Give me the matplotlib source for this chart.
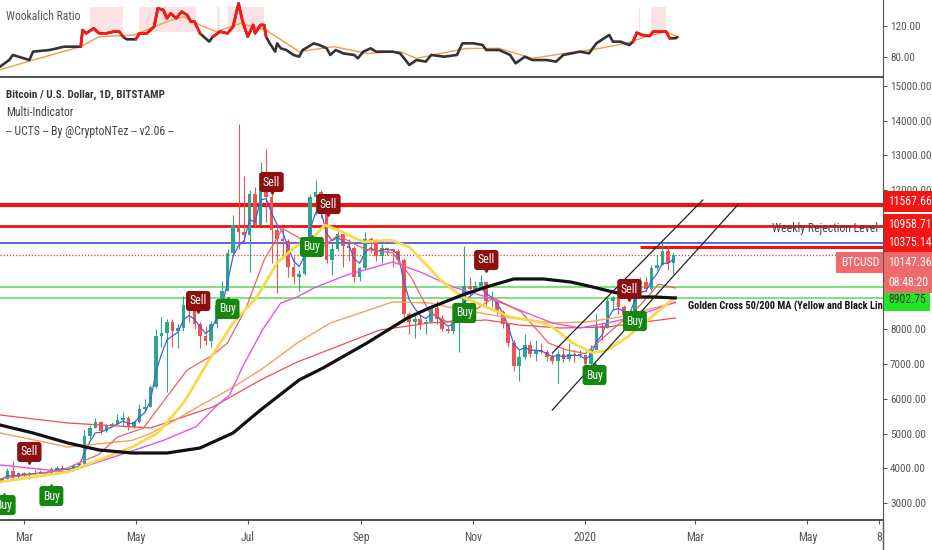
import numpy as np
import matplotlib.pyplot as plt
import matplotlib.transforms as mtransforms
from matplotlib.lines import Line2D

plt.rcParams['font.family'] = ['Roboto Condensed', 'Roboto', 'DejaVu Sans']

# ---------------- data (days counted from 2019-01-01) ----------------
# 3-day candles, Feb 2019 -> Feb 2020 (BTCUSD, Bitstamp)
candle_day = list(range(47, 414, 3))
first_open = 3620
close = [3680, 3920, 3750, 3850, 3820, 3850, 3870, 3880, 3870, 3990,
         4020, 3990, 3940, 4080, 4120, 4920, 5160, 5320, 5060, 5220,
         5280, 5380, 5450, 5200, 5320, 5700, 5760, 6350, 7800, 7900,
         8200, 7950, 8050, 8700, 8550, 8150, 7800, 7650, 8150, 8700,
         9100, 10200, 11000, 10800, 10700, 11900, 11000, 12500, 11800, 10850,
         10600, 10550, 9800, 9500, 9600, 10500, 11800, 11950, 11400, 10000,
         10300, 10750, 10400, 10350, 9500, 9750, 10600, 10500, 10100, 10350,
         10300, 10250, 10000, 8450, 8200, 8300, 8150, 8200, 8600, 8300,
         8000, 7950, 8200, 8650, 9250, 9150, 9250, 9350, 8800, 8800,
         8500, 8150, 7600, 6950, 7200, 7550, 7300, 7400, 7350, 7200,
         7100, 7300, 7150, 7300, 7250, 7250, 7000, 7400, 8100, 8050,
         8800, 8900, 8650, 8400, 8350, 9300, 9350, 9150, 9750, 9850,
         10250, 9900, 10150]
high = [3720, 4000, 4200, 3880, 3900, 3880, 3950, 3950, 3900, 4040,
        4060, 4080, 4000, 4120, 4150, 5100, 5250, 5450, 5350, 5260,
        5340, 5550, 5620, 5500, 5360, 5850, 5980, 6400, 8000, 8350,
        8300, 8300, 8150, 8950, 9000, 8700, 8200, 8100, 8250, 8850,
        9400, 10300, 11300, 13900, 12400, 12000, 12100, 12800, 13200, 11900,
        11000, 10900, 10600, 10100, 9700, 10650, 11900, 12300, 12000, 11500,
        10500, 10950, 10800, 10600, 10400, 9800, 10800, 10650, 10600, 10450,
        10380, 10300, 10300, 10050, 8500, 8400, 8400, 8300, 8700, 8800,
        8400, 8100, 8300, 8750, 10400, 9500, 9400, 9550, 9350, 9100,
        8850, 8550, 8150, 7700, 7400, 7850, 7650, 7700, 7600, 7400,
        7300, 7400, 7500, 7600, 7400, 7400, 7300, 7550, 8450, 8200,
        8900, 8950, 9150, 8700, 8500, 9400, 9500, 9500, 9850, 10150,
        10500, 10400, 10200]
low = [3600, 3650, 3700, 3700, 3780, 3700, 3830, 3850, 3830, 3860,
       3960, 3950, 3900, 3930, 4050, 4120, 4850, 5150, 4990, 5030,
       5180, 5250, 5200, 5100, 5150, 5300, 5650, 5750, 6300, 7500,
       6200, 7500, 7450, 7950, 8200, 8000, 7450, 7550, 7500, 8050,
       8700, 9100, 10100, 10300, 10500, 9650, 10950, 11000, 11100, 9900,
       9050, 10100, 9500, 9300, 9100, 9550, 10500, 11300, 11200, 9900,
       9550, 10250, 9800, 9950, 9350, 9400, 9700, 10200, 9950, 9900,
       10150, 9800, 9900, 8200, 7850, 7750, 8000, 7850, 8200, 8150,
       7950, 7900, 7850, 7350, 8600, 8950, 9050, 9150, 8700, 8650,
       8400, 8050, 7500, 6800, 6500, 7150, 7200, 7100, 7300, 7100,
       7000, 6450, 7050, 7100, 7050, 7200, 6900, 6850, 7400, 7700,
       8050, 8550, 8450, 8300, 8250, 8300, 9200, 9100, 9100, 9700,
       9850, 9700, 9600]

# moving averages
ma200_day = [46, 64, 83, 100, 118, 137, 155, 173, 188, 209, 222, 246, 268, 280,
             298, 311, 326, 342, 357, 369, 380, 393, 402, 414]
ma200_val = [5245, 5015, 4727, 4525, 4439, 4439, 4583, 5015, 5677, 6540, 6885, 7605,
             8324, 8612, 8986, 9216, 9447, 9447, 9360, 9216, 9073, 8929, 8929, 8900]
ma50_day = [46, 64, 83, 100, 118, 132, 146, 159, 173, 186, 197, 206, 217, 223, 230,
            244, 259, 269, 280, 286, 298, 311, 324, 340, 347, 358, 369, 377, 388,
            399, 409, 414]
ma50_val = [3604, 3748, 3892, 4238, 4612, 5015, 5878, 7029, 8180, 8929, 9907, 10339,
            10655, 11000, 10857, 10512, 10569, 10368, 9763, 9418, 8929, 8641, 8353,
            8209, 8065, 7605, 7317, 7404, 7778, 8267, 8698, 8929]
ma100_day = [46, 83, 118, 135, 153, 164, 171, 178, 189, 199, 208, 217, 235, 260, 275,
             293, 311, 329, 347, 362, 377, 391, 402, 414]
ma100_val = [4094, 3892, 4500, 4800, 5200, 5800, 6100, 6900, 7979, 8756, 8929, 9188,
             9562, 9936, 9648, 9216, 8929, 8554, 8180, 8036, 8180, 8353, 8554, 8785]
ma150_day = [46, 83, 118, 128, 137, 155, 172, 188, 208, 226, 260, 280, 293, 320, 347,
             366, 384, 402, 414]
ma150_val = [5015, 4612, 4800, 5000, 5250, 5800, 6300, 6828, 7605, 8180, 8785, 8756,
             8612, 8353, 8180, 8209, 8353, 8612, 8756]
ema200_day = [46, 83, 128, 162, 188, 208, 253, 280, 311, 329, 351, 377, 393, 414]
ema200_val = [5533, 5302, 5159, 5763, 6540, 7058, 7979, 8180, 8267, 8123, 8036, 8065,
              8180, 8324]
ma30_day = [46, 80, 100, 110, 124, 148, 162, 170, 180, 190, 200, 210, 220, 230, 245,
            260, 270, 280, 290, 300, 315, 330, 345, 355, 365, 380, 395, 405, 414]
ma30_val = [3700, 3950, 4400, 4900, 5150, 6828, 7260, 7605, 8600, 10000, 10900, 10600,
            10300, 10700, 10300, 10200, 9500, 8500, 8200, 8400, 8900, 8500, 7600, 7400,
            7300, 8000, 8700, 9300, 9188]

# price levels
lvl_main = 11567.66
lvl_weekly = 10958.71
lvl_blue = 10480
lvl_recent = 10375.14
last_price = 10147.36
lvl_green = [9220, 8902.75]

# rising channel
chan_a_day, chan_a_val = [347, 429], [7317, 11720]
chan_b_day, chan_b_val = [347, 448], [5677, 11576]

# UCTS signals
sig_kind = ['Sell', 'Sell', 'Buy', 'Sell', 'Buy', 'Sell', 'Buy', 'Sell', 'Buy', 'Buy',
            'Sell', 'Buy', 'Buy']
sig_day = [194, 225, 216, 154, 170, 311, 299, 389, 392, 370, 62, 74, 48]
sig_price = [12237, 11604, 10367, 8813, 8583, 9993, 8468, 9158, 8237, 6683, 4468,
             3201, 2942]

# Wookalich ratio panel
ratio_day = [46, 51, 53, 62, 64, 73, 81, 90, 91, 93, 97, 100, 104, 108, 111, 113, 115,
             120, 122, 126, 130, 132, 135, 137, 139, 142, 145, 148, 150, 152, 155, 160,
             162, 166, 170, 173, 176, 178, 181, 184, 185, 188, 190, 191, 193, 196, 197,
             199, 202, 206, 209, 211, 217, 220, 224, 226, 229, 233, 239, 241, 244, 248,
             251, 260, 264, 267, 269, 273, 278, 281, 288, 295, 298, 300, 304, 309, 311,
             318, 324, 327, 332, 336, 344, 349, 353, 362, 367, 371, 378, 380, 384, 389,
             391, 393, 396, 400, 402, 405, 409, 411, 414, 415]
ratio_val = [67.5, 76.1, 82.6, 76.1, 86.9, 89, 93.3, 93.3, 114.8, 110.5, 117, 110.5,
             110.5, 112.7, 112.7, 106.2, 102.8, 102.8, 110.5, 110.5, 119.1, 142.8, 140.6,
             129.9, 136.3, 129.9, 138.5, 134.2, 125.6, 125.6, 110.5, 99.8, 106.2, 112.7,
             110.5, 119.1, 149.2, 127.7, 106.2, 121.3, 110.5, 121.3, 121.3, 106.2, 97.6,
             86.9, 97.6, 91.2, 89, 82.6, 80.4, 89, 97.6, 95.5, 91.2, 82.6, 89, 84.7, 82.6,
             78.3, 86.9, 91.2, 86.9, 86.9, 84.7, 76.1, 69.7, 76.1, 74, 82.6, 80.4, 82.6,
             97.6, 97.6, 97.6, 95.5, 89, 89, 82.6, 71.8, 80.4, 76.1, 76.1, 74, 82.6, 86.9,
             84.7, 97.6, 108.4, 99.8, 99.8, 95.5, 99.8, 111.4, 108.4, 107.1, 112.7, 112.7,
             112.7, 104.1, 104.1, 105.4]
ratio_ma_day = [46, 64, 90, 100, 119, 137, 146, 155, 164, 177, 191, 209, 228, 246, 264,
                273, 300, 318, 336, 354, 373, 387, 398, 409, 415]
ratio_ma_val = [63.4, 76.1, 93.3, 106.2, 108.4, 125.6, 132, 121.3, 112.7, 123.4, 114.8,
                86.9, 93.3, 84.7, 86.9, 78.3, 91, 91.2, 78.3, 84.7, 91.2, 97.6, 106.2,
                112.7, 106.2]
ratio_bands = [(95, 113), (122, 153), (164, 166), (170, 190), (394, 395), (401, 409)]
ratio_red = [(90, 113), (120, 156), (162, 192), (391, 411)]

tick_day = [59, 120, 181, 243, 304, 365, 425, 486, 525]
tick_lab = ['Mar', 'May', 'Jul', 'Sep', 'Nov', '2020', 'Mar', 'May', '8']
price_ticks = [3000, 4000, 5000, 6000, 7000, 8000, 12000, 13000, 14000, 15000]

# ---------------- figure ----------------
W, H = 932, 550
fig = plt.figure(figsize=(W / 100, H / 100), dpi=100)
RX = 883
ax_top = fig.add_axes([0, 1 - 77 / H, RX / W, 77 / H])
ax = fig.add_axes([0, 30 / H, RX / W, (520 - 78) / H])
XMIN, XMAX = 46, 527.2
GREY = '#555555'

for a in (ax_top, ax):
    a.set_xlim(XMIN, XMAX)
    a.spines['left'].set_visible(False)
    a.spines['top'].set_visible(False)
    a.spines['right'].set_color(GREY)
    a.spines['bottom'].set_color('#444444')
    a.spines['bottom'].set_linewidth(1.3)
    a.yaxis.tick_right()
    a.tick_params(axis='y', labelsize=8, colors=GREY, length=3, pad=2)
fig.add_artist(Line2D([RX / W, RX / W], [0, 30 / H], color=GREY, lw=1))

# ---- ratio panel ----
ax_top.set_ylim(54.2, 153.5)
for d0, d1 in ratio_bands:
    ax_top.fill_between([d0, d1], 112, 144, color='#fde2e4', lw=0, zorder=0)
ax_top.plot(ratio_ma_day, ratio_ma_val, color='#f39c4a', lw=1, zorder=2)
ax_top.plot(ratio_day, ratio_val, color='#333333', lw=1.9, zorder=3)
rd, rv = np.array(ratio_day), np.array(ratio_val)
for d0, d1 in ratio_red:
    m = (rd >= d0) & (rd <= d1)
    ax_top.plot(rd[m], rv[m], color='#ff1414', lw=1.9, zorder=4)
ax_top.set_yticks([80, 120])
ax_top.set_yticklabels(['80.00', '120.00'])
ax_top.set_xticks([])
ax_top.text(6 / RX, 0.78, 'Wookalich Ratio', transform=ax_top.transAxes,
            fontsize=8.5, color=GREY, va='center')

# ---- main panel ----
ax.set_ylim(2511, 15230)
ax.axhline(lvl_main, color='#f21010', lw=3, zorder=1)
ax.axhline(lvl_weekly, color='#f21010', lw=2, zorder=1)
ax.axhline(lvl_blue, color='#2f3fd8', lw=1.1, zorder=1)
ax.hlines(lvl_recent, 395, XMAX, color='#f21010', lw=2.2, zorder=1)
ax.axhline(last_price, color='#e04040', lw=0.9, ls=(0, (1, 1.5)), zorder=1)
for g in lvl_green:
    ax.axhline(g, color='#66dd66', lw=1.2, zorder=1)

o = np.array([first_open] + close[:-1])
c = np.array(close)
col = np.where(c >= o, '#2ea58f', '#ef5350')
ax.vlines(candle_day, low, high, colors=col, lw=0.8, zorder=2)
ax.bar(candle_day, np.maximum(np.abs(c - o), 25), bottom=np.minimum(o, c), width=2.0,
       color=col, lw=0, zorder=2)

# fast EMA of the closes (blue)
ema = [close[0]]
for v in close[1:]:
    ema.append(ema[-1] + 0.45 * (v - ema[-1]))
ax.plot(candle_day, ema, color='#3d62e0', lw=0.9, zorder=3)

ax.plot(ema200_day, ema200_val, color='#ee4f4f', lw=0.9, zorder=3)
ax.plot(ma150_day, ma150_val, color='#f7a05a', lw=1, zorder=3)
ax.plot(ma100_day, ma100_val, color='#e056e6', lw=1, zorder=3)
ax.plot(ma30_day, ma30_val, color='#f06060', lw=0.9, zorder=3)
ax.plot(ma50_day, ma50_val, color='#f8d94a', lw=2, zorder=4)
ax.plot(ma200_day, ma200_val, color='#111111', lw=2.3, zorder=4)

ax.plot(chan_a_day, chan_a_val, color='#222222', lw=0.9, zorder=4)
ax.plot(chan_b_day, chan_b_val, color='#222222', lw=0.9, zorder=4)

for kind, d, p in zip(sig_kind, sig_day, sig_price):
    fc = '#8c1010' if kind == 'Sell' else '#13870f'
    dy = -9 if kind == 'Sell' else 9
    tr = ax.transData + mtransforms.ScaledTranslation(0, dy / 100, fig.dpi_scale_trans)
    ax.plot([d], [p], marker='v' if kind == 'Sell' else '^', ms=4, color=fc,
            transform=tr, zorder=6, clip_on=False)
    ax.text(d, p, kind, ha='center', va='center', fontsize=8.5, color='white',
            zorder=7, bbox=dict(boxstyle='round,pad=0.3,rounding_size=0.25', fc=fc, ec='none'))

ax.text(524.5, 10886, 'Weekly Rejection Level', ha='right', va='center', fontsize=8.5,
        color='#444444', zorder=5)
ax.text(421, 8670, 'Golden Cross 50/200 MA (Yellow and Black Line)', ha='left',
        va='center', fontsize=7.5, fontweight='bold', color='#111111', zorder=5,
        clip_on=True)

ax.text(6 / RX, (520 - 95) / 442, 'Bitcoin / U.S. Dollar, 1D, BITSTAMP',
        transform=ax.transAxes, fontsize=8, fontweight='bold', color='#333333',
        va='center')
ax.text(6 / RX, (520 - 113) / 442, 'Multi-Indicator', transform=ax.transAxes,
        fontsize=8.5, color='#444444', va='center')
ax.text(6 / RX, (520 - 131) / 442, '-- UCTS -- By @CryptoNTez -- v2.06 --',
        transform=ax.transAxes, fontsize=8.5, color='#444444', va='center')

ax.set_yticks(price_ticks)
ax.set_yticklabels(['%.2f' % t for t in price_ticks])
ax.set_xticks(tick_day)
ax.set_xticklabels(tick_lab)
ax.tick_params(axis='x', labelsize=8.5, colors=GREY, length=3, pad=5)


def tag(price, text, fc, tc='white', dy=0, left=False):
    tr = mtransforms.blended_transform_factory(ax.transAxes, ax.transData)
    dx = -4 if left else 5
    tr = tr + mtransforms.ScaledTranslation(dx / 100, dy / 100, fig.dpi_scale_trans)
    ax.text(1.0, price, text, transform=tr, ha='right' if left else 'left',
            va='center', fontsize=8.5, color=tc, clip_on=False, zorder=10,
            bbox=dict(boxstyle='square,pad=0.35', fc=fc, ec='none'))


tag(lvl_main, '11567.66', '#f41515', dy=4)
tag(lvl_weekly, '10958.71', '#f41515', dy=2)
tag(lvl_recent, '10375.14', '#f41515', dy=4)
tag(lvl_green[1], '8902.75', '#22e622', tc='#333333', dy=-2)
tag(last_price, '08:48:20', '#ef6b6b', dy=-28)
tag(last_price, '10147.36', '#ef6b6b', dy=-8)
tag(last_price, 'BTCUSD', '#ef6b6b', dy=-8, left=True)

fig.savefig('out.png', dpi=100)
